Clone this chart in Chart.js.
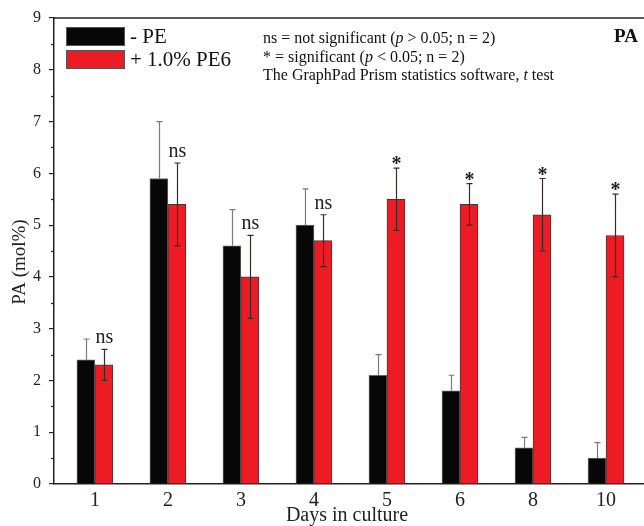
<!DOCTYPE html>
<html>
<head>
<meta charset="utf-8">
<script src="https://cdn.jsdelivr.net/npm/chart.js@4/dist/chart.umd.min.js"></script>
<style>
  html, body { margin: 0; padding: 0; background: #fff; overflow: hidden; }
  #wrap { width: 644px; height: 526px; }
</style>
</head>
<body>
<div id="wrap"><canvas id="pa-chart"></canvas></div>
<script>
"use strict";
// values (PA, mol%)
const days = ["1", "2", "3", "4", "5", "6", "8", "10"];
const noPE = [2.4, 5.9, 4.6, 5.0, 2.1, 1.8, 0.7, 0.5];
const noPEErr = [0.4, 1.1, 0.7, 0.7, 0.4, 0.3, 0.2, 0.3];
const withPE6 = [2.3, 5.4, 4.0, 4.7, 5.5, 5.4, 5.2, 4.8];
const withPE6Err = [0.3, 0.8, 0.8, 0.5, 0.6, 0.4, 0.7, 0.8];
const marks = ["ns", "ns", "ns", "ns", "*", "*", "*", "*"];
const seriesNames = ["- PE", "+ 1.0% PE6"];
const statNotes = [
    [["ns = not significant (", false], ["p", true], [" > 0.05; n = 2)", false]],
    [["* = significant (", false], ["p", true], [" < 0.05; n = 2)", false]],
    [["The GraphPad Prism statistics software, ", false], ["t", true], [" test", false]]
];

const SERIF = '"Liberation Serif", "DejaVu Serif", serif';
const BLACK = "#070707";
const RED = "#ED1C24";

// top frame line, minor y ticks, titles, legend, notes
const decorPlugin = {
    id: "decor",
    afterDraw(chart) {
        const { ctx, chartArea: a, scales } = chart;
        const y = scales.y;
        ctx.save();
        ctx.strokeStyle = "#222";
        ctx.lineWidth = 1.5;
        ctx.beginPath();
        ctx.moveTo(a.left, a.top);
        ctx.lineTo(a.right, a.top);
        ctx.stroke();
        // minor ticks on the y axis
        ctx.lineWidth = 1.2;
        for (let v = 0.5; v < 9; v += 1) {
            const py = Math.round(y.getPixelForValue(v)) + 0.5;
            ctx.beginPath();
            ctx.moveTo(a.left - 3, py);
            ctx.lineTo(a.left, py);
            ctx.stroke();
        }
        // axis titles
        ctx.fillStyle = "#222";
        ctx.font = "20px " + SERIF;
        ctx.textAlign = "center";
        ctx.textBaseline = "middle";
        ctx.fillText("Days in culture", (a.left + a.right) / 2 - 2, 516);
        ctx.save();
        ctx.translate(20, 262);
        ctx.rotate(-Math.PI / 2);
        ctx.font = "19px " + SERIF;
        ctx.fillText("PA (mol%)", 0, 0);
        ctx.restore();
        // legend
        const colors = [BLACK, RED];
        ctx.font = "21px " + SERIF;
        ctx.textAlign = "left";
        colors.forEach((c, i) => {
            const top = 27 + i * 23;
            ctx.fillStyle = c;
            ctx.fillRect(66, top, 59, 19);
            ctx.strokeStyle = "#555";
            ctx.lineWidth = 1;
            ctx.strokeRect(66.5, top + 0.5, 58, 18);
            ctx.fillStyle = "#111";
            ctx.fillText(chart.data.datasets[i].label, 130, top + 10);
        });
        // stats notes
        statNotes.forEach((line, i) => {
            let x = 263;
            const py = 39 + i * 18.5;
            line.forEach(([txt, ital]) => {
                ctx.font = (ital ? "italic " : "") + "16px " + SERIF;
                ctx.fillText(txt, x, py);
                x += ctx.measureText(txt).width;
            });
        });
        ctx.font = "bold 19px " + SERIF;
        ctx.fillText("PA", 614, 37);
        ctx.restore();
    }
};

// error bars and significance marks
const errorPlugin = {
    id: "errors",
    afterDatasetsDraw(chart) {
        const { ctx, scales } = chart;
        const y = scales.y;
        const errs = [noPEErr, withPE6Err];
        ctx.save();
        chart.data.datasets.forEach((ds, d) => {
            const meta = chart.getDatasetMeta(d);
            meta.data.forEach((bar, i) => {
                const v = ds.data[i].y;
                const x = Math.round(bar.x) + 0.5;
                const hi = y.getPixelForValue(v + errs[d][i]);
                const lo = d === 0 ? y.getPixelForValue(v) : y.getPixelForValue(v - errs[d][i]);
                ctx.strokeStyle = d === 0 ? "#7a7a7a" : "#3a2a2a";
                ctx.lineWidth = 1.2;
                ctx.beginPath();
                ctx.moveTo(x, lo);
                ctx.lineTo(x, hi);
                ctx.moveTo(x - 3, hi);
                ctx.lineTo(x + 3, hi);
                if (d === 1) {
                    ctx.moveTo(x - 3, lo);
                    ctx.lineTo(x + 3, lo);
                }
                ctx.stroke();
                if (d === 1) {
                    ctx.fillStyle = "#222";
                    ctx.textAlign = "center";
                    ctx.textBaseline = "alphabetic";
                    if (marks[i] === "ns") {
                        ctx.font = "20px " + SERIF;
                        ctx.fillText("ns", x, hi - 6);
                    } else {
                        ctx.font = "bold 20px " + SERIF;
                        ctx.fillText("*", x, hi + 2);
                    }
                }
            });
        });
        ctx.restore();
    }
};

const ctx = document.getElementById("pa-chart");
new Chart(ctx, {
    type: "bar",
    data: {
        datasets: [
            {
                label: seriesNames[0],
                data: noPE.map((v, i) => ({ x: i + 1, y: v })),
                backgroundColor: BLACK,
                borderColor: "#666",
                borderWidth: 1
            },
            {
                label: seriesNames[1],
                data: withPE6.map((v, i) => ({ x: i + 1, y: v })),
                backgroundColor: RED,
                borderColor: "#4a3535",
                borderWidth: 1
            }
        ]
    },
    options: {
        responsive: true,
        maintainAspectRatio: false,
        animation: false,
        layout: { padding: { top: 18, right: 0, left: 0, bottom: 0 } },
        barThickness: 18,
        plugins: {
            legend: { display: false },
            tooltip: { enabled: false }
        },
        scales: {
            x: {
                type: "linear",
                offset: false,
                min: 0.44,
                max: 8.52,
                afterBuildTicks: (s) => { s.ticks = days.map((d, i) => ({ value: i + 1 })); },
                afterFit: (s) => { s.height = 42; },
                grid: { display: false, drawTicks: false, offset: false },
                border: { display: true, color: "#222", width: 1.5 },
                ticks: {
                    padding: 5,
                    color: "#222",
                    font: { family: SERIF, size: 20 },
                    maxRotation: 0,
                    autoSkip: false,
                    callback: (v) => days[v - 1] ?? ""
                }
            },
            y: {
                min: 0,
                max: 9,
                afterFit: (s) => { s.width = 54; },
                grid: { drawOnChartArea: false, drawTicks: true, tickLength: 5, color: "#222", lineWidth: 1.2 },
                border: { display: true, color: "#222", width: 1.5 },
                ticks: {
                    stepSize: 1,
                    padding: 8,
                    color: "#222",
                    font: { family: SERIF, size: 16 }
                }
            }
        }
    },
    plugins: [errorPlugin, decorPlugin]
});
</script>
</body>
</html>
